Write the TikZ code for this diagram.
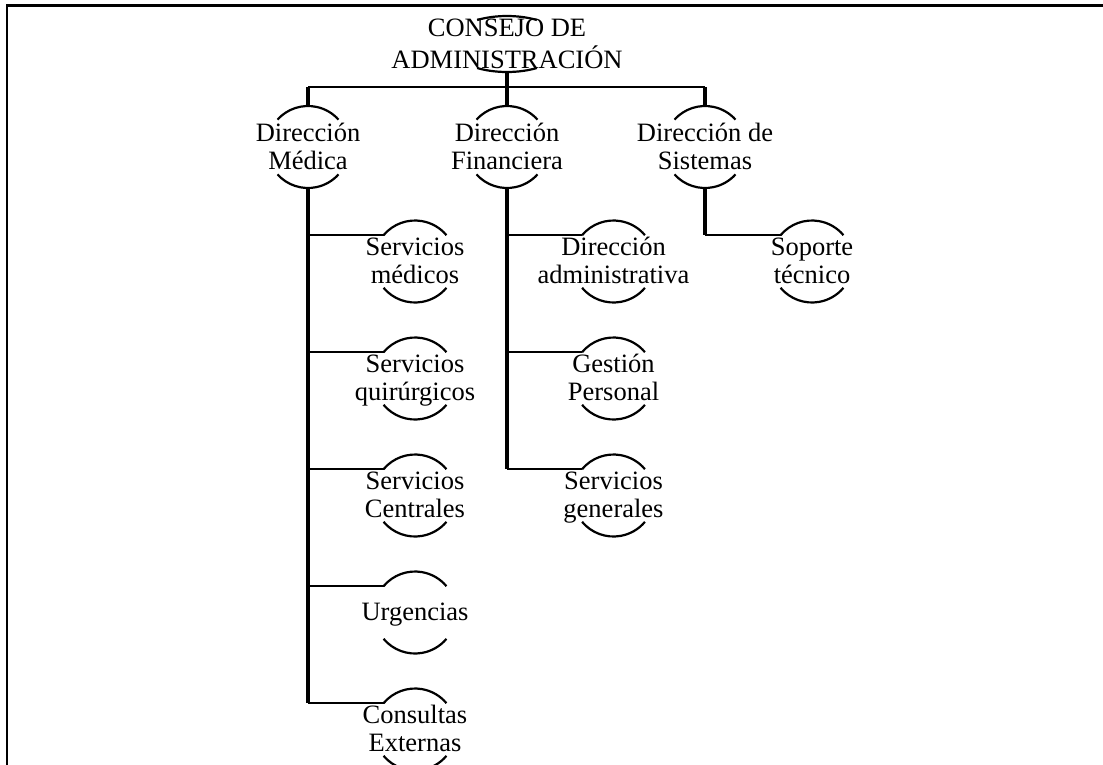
\documentclass[tikz,border=0pt]{standalone}
\usepackage{fontspec}
\setmainfont{Liberation Serif}
\usetikzlibrary{shapes.geometric}

\begin{document}
\begin{tikzpicture}[x=1pt,y=1pt,
  ring/.style={circle, minimum size=82pt, inner sep=0pt, outer sep=0pt, draw=none},
  oval/.style={ellipse, minimum width=116pt, minimum height=56pt, inner sep=0pt, outer sep=0pt, draw=none},
  lbl/.style={font=\fontsize{26.5}{28}\selectfont, align=center, inner sep=0pt, yshift=-2.5pt},
  arcline/.style={line width=2.2pt},
  trunk/.style={line width=3.2pt},
  branch/.style={line width=2.6pt},
  frameline/.style={line width=2.2pt}]
\useasboundingbox (0,0) rectangle (1103,-764);
\clip (0,0) rectangle (1103,-764);

% page frame
\draw[frameline] (7,-800) -- (7,-5.5) -- (1150,-5.5);

% board
\node[oval] (top) at (507,-44) {};
\node[lbl] (topt) at (top) {\strut CONSEJO DE\\\strut ADMINISTRACIÓN};

% directorates
\node[ring] (dm) at (308,-147) {};
\node[ring] (df) at (507,-147) {};
\node[ring] (ds) at (705,-147) {};
\node[lbl] (dmt) at (dm) {\strut Dirección\\\strut Médica};
\node[lbl] (dft) at (df) {\strut Dirección\\\strut Financiera};
\node[lbl] (dst) at (ds) {\strut Dirección de\\\strut Sistemas};

% medical units
\node[ring] (m1) at (415,-261.5) {};
\node[ring] (m2) at (415,-378.5) {};
\node[ring] (m3) at (415,-495.5) {};
\node[ring] (m4) at (415,-612.5) {};
\node[ring] (m5) at (415,-729.5) {};
\node[lbl] (m1t) at (m1) {\strut Servicios\\\strut médicos};
\node[lbl] (m2t) at (m2) {\strut Servicios\\\strut quirúrgicos};
\node[lbl] (m3t) at (m3) {\strut Servicios\\\strut Centrales};
\node[lbl] (m4t) at (m4) {\strut Urgencias};
\node[lbl] (m5t) at (m5) {\strut Consultas\\\strut Externas};

% financial units
\node[ring] (f1) at (613.5,-261.5) {};
\node[ring] (f2) at (613.5,-378.5) {};
\node[ring] (f3) at (613.5,-495.5) {};
\node[lbl] (f1t) at (f1) {\strut Dirección\\\strut administrativa};
\node[lbl] (f2t) at (f2) {\strut Gestión\\\strut Personal};
\node[lbl] (f3t) at (f3) {\strut Servicios\\\strut generales};

% systems unit
\node[ring] (s1) at (812,-261.5) {};
\node[lbl] (s1t) at (s1) {\strut Soporte\\\strut técnico};

% open ring outlines: upper and lower arcs only
\draw[arcline] ([shift={(121:58pt and 28pt)}]top.center)
  arc[start angle=121, end angle=59, x radius=58pt, y radius=28pt];
\draw[arcline] ([shift={(239:58pt and 28pt)}]top.center)
  arc[start angle=239, end angle=301, x radius=58pt, y radius=28pt];
\foreach \n in {dm,df,ds}{
  \draw[arcline] (\n.138) arc[start angle=138, end angle=42, radius=41pt];
  \draw[arcline] (\n.222) arc[start angle=222, end angle=318, radius=41pt];
}
\foreach \n in {m1,m2,m3,m4,m5,f1,f2,f3,s1}{
  \draw[arcline] (\n.140) arc[start angle=140, end angle=40, radius=41pt];
  \draw[arcline] (\n.220) arc[start angle=220, end angle=320, radius=41pt];
}

% board to directorates
\coordinate (bus) at (507,-87);
\draw[trunk] (top.south) -- (bus);
\draw[branch] (dm.north |- bus) -- (ds.north |- bus);
\draw[trunk] (dm.north |- bus) -- (dm.north);
\draw[trunk] (bus) -- (df.north);
\draw[trunk] (ds.north |- bus) -- (ds.north);

% medical branch
\draw[trunk] (dm.south) -- (dm.south |- m5.140);
\foreach \n in {m1,m2,m3,m4,m5}
  \draw[branch] (dm.south |- \n.140) -- (\n.140);

% financial branch
\draw[trunk] (df.south) -- (df.south |- f3.140);
\foreach \n in {f1,f2,f3}
  \draw[branch] (df.south |- \n.140) -- (\n.140);

% systems branch
\draw[trunk] (ds.south) -- (ds.south |- s1.140);
\draw[branch] (ds.south |- s1.140) -- (s1.140);
\end{tikzpicture}
\end{document}
